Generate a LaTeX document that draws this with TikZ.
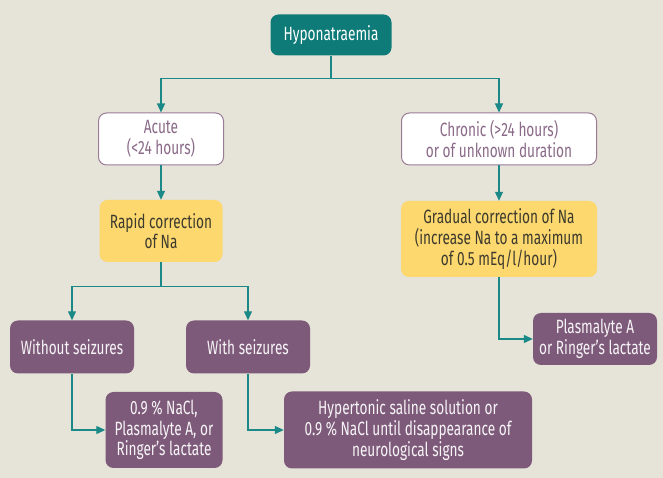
\documentclass[tikz,border=0pt]{standalone}
\usepackage{fontspec}
\setmainfont{Fira Sans}[FakeStretch=0.71]
\usetikzlibrary{shapes, arrows.meta}
\usepackage{xcolor}
\definecolor{bgcol}{HTML}{E6E3D8}
\definecolor{tealbox}{HTML}{0E7B79}
\definecolor{tealline}{HTML}{1B8987}
\definecolor{yellowbox}{HTML}{FDD86E}
\definecolor{purplebox}{HTML}{7E5A7A}
\definecolor{purpleline}{HTML}{9A7C97}
\definecolor{purpletext}{HTML}{8A6A88}
\definecolor{darktext}{HTML}{3D3A2E}
\tikzstyle{base} = [rectangle, rounded corners=8pt, inner sep=0pt, align=center, font=\fontsize{19.2}{20.6}\selectfont]
\tikzstyle{start} = [base, minimum width=121pt, minimum height=41pt, fill=tealbox, text=white]
\tikzstyle{period} = [base, minimum height=52pt, fill=white, draw=purpleline, line width=1pt, text=purpletext]
\tikzstyle{correction} = [base, fill=yellowbox, text=darktext]
\tikzstyle{fluid} = [base, fill=purplebox, text=white!93!purplebox]
\tikzstyle{arrow} = [line width=1.2pt, draw=tealline, -{Triangle[length=9pt,width=8pt]}, color=tealline]

\begin{document}
\begin{tikzpicture}[x=1pt, y=1pt, node distance=100pt]
\fill [bgcol] (0,0) rectangle (663,478);
\useasboundingbox (0,0) rectangle (663,478);
%
% Define nodes
%
\node (hypo) [start] at (331,443) {Hyponatraemia};
\node (acute) [period, minimum width=125pt, below of=hypo, xshift=-170pt, yshift=-4pt] {Acute\\(<24 hours)};
\node (chronic) [period, minimum width=195pt, below of=hypo, xshift=168pt, yshift=-4pt] {Chronic (>24 hours)\\or of unknown duration};
\node (rapid) [correction, minimum width=123pt, minimum height=62pt, below of=acute, yshift=8pt] {Rapid correction\\of Na};
\node (gradual) [correction, minimum width=196pt, minimum height=76pt, below of=chronic] {Gradual correction of Na\\(increase Na to a maximum\\of 0.5 mEq/l/hour)};
\node (without) [fluid, minimum width=124pt, minimum height=53pt, below of=rapid, xshift=-89pt, yshift=-16pt] {Without seizures};
\node (with) [fluid, minimum width=124pt, minimum height=53pt, below of=rapid, xshift=87pt, yshift=-16pt] {With seizures};
\node (nacl) [fluid, minimum width=117pt, minimum height=76pt, below of=without, xshift=92pt, yshift=17pt] {0.9 \% NaCl,\\Plasmalyte A, or\\Ringer's lactate};
\node (hyper) [fluid, minimum width=248pt, minimum height=77pt, below of=with, xshift=160pt, yshift=17pt] {Hypertonic saline solution or\\0.9 \% NaCl until disappearance of\\neurological signs};
\node (plasma) [fluid, minimum width=124pt, minimum height=52pt, below of=gradual, xshift=96pt] {Plasmalyte A\\or Ringer's lactate};
%
% Connect nodes
%
\draw [arrow] (hypo.south) -- ++(0,-22.5) -| (acute.north);
\draw [arrow] (hypo.south) -- ++(0,-22.5) -| (chronic.north);
\draw [arrow] (acute) -- (rapid);
\draw [arrow] (chronic) -- (gradual);
\draw [arrow] (rapid.south) -- ++(0,-24) -| (without.north);
\draw [arrow] (rapid.south) -- ++(0,-24) -| (with.north);
\draw [arrow] (without.south) |- (nacl.west);
\draw [arrow] (with.south) |- (hyper.west);
\draw [arrow] (gradual.south) |- (plasma.west);
\end{tikzpicture}
\end{document}
